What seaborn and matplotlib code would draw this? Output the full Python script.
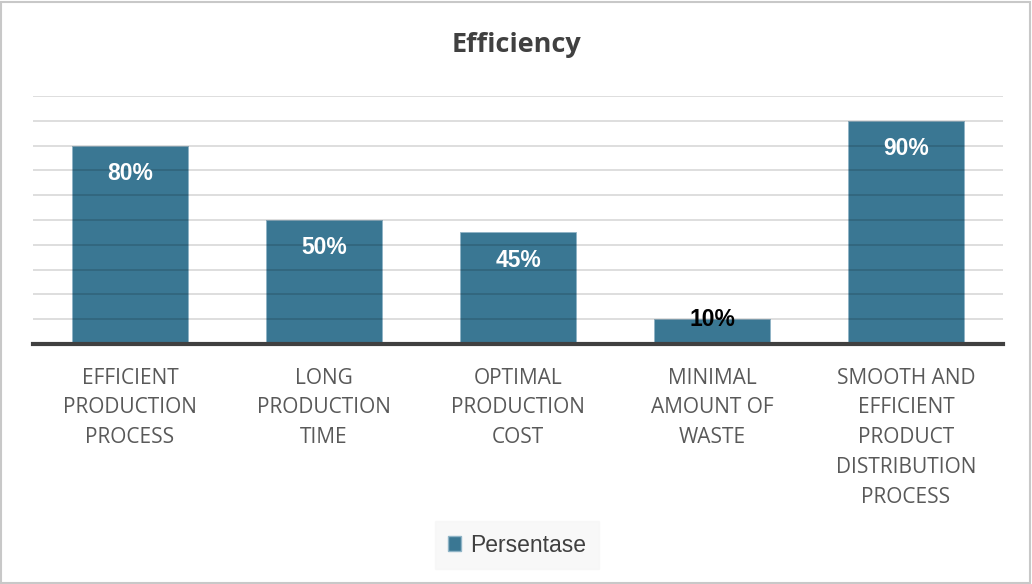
import matplotlib
matplotlib.use("Agg")
import matplotlib.pyplot as plt
import seaborn as sns
import pandas as pd
from matplotlib.patches import Rectangle, Patch

categories = ["EFFICIENT\nPRODUCTION\nPROCESS", "LONG\nPRODUCTION\nTIME",
              "OPTIMAL\nPRODUCTION\nCOST", "MINIMAL\nAMOUNT OF\nWASTE",
              "SMOOTH AND\nEFFICIENT\nPRODUCT\nDISTRIBUTION\nPROCESS"]
values = [80, 50, 45, 10, 90]
labels = ["80%", "50%", "45%", "10%", "90%"]
series_name = "Persentase"

BAR = "#3a7793"
sns.set_theme(style="white")
plt.rcParams['font.family'] = ['Open Sans', 'DejaVu Sans']

fig = plt.figure(figsize=(10.32, 5.84), dpi=100)
ax = fig.add_axes([33/1032, 240/584, 970/1032, 248/584])

df = pd.DataFrame({"cat": categories, "val": values})
sns.barplot(data=df, x="cat", y="val", color=BAR, saturation=1, width=0.6,
            edgecolor="#8fb4c6", linewidth=0.6, ax=ax, zorder=2)
ax.set_ylim(0, 100)
for y in range(10, 101, 10):
    ax.axhline(y, color="black", alpha=0.17, lw=1.1, zorder=3)

for sp in ["top", "right", "left"]:
    ax.spines[sp].set_visible(False)
ax.spines["bottom"].set_color("#404040")
ax.spines["bottom"].set_linewidth(3)
ax.spines["bottom"].set_zorder(4)
ax.set_yticks([])
ax.set_xlabel("")
ax.set_ylabel("")
ax.tick_params(axis="x", length=0, pad=17, labelsize=15, labelcolor="#595959")
for t in ax.get_xticklabels():
    t.set_linespacing(1.55)

for i, (v, lab) in enumerate(zip(values, labels)):
    if v >= 20:
        ax.annotate(lab, (i, v), xytext=(0, -20), textcoords="offset points",
                    ha="center", va="center", color="white", fontsize=16.5,
                    fontweight="bold", family="Liberation Sans", zorder=5)
    else:
        ax.annotate(lab, (i, v), xytext=(0, 0), textcoords="offset points",
                    ha="center", va="center", color="black", fontsize=16.5,
                    fontweight="bold", family="Liberation Sans", zorder=5)

fig.text(517/1032, 1 - 45/584, "Efficiency", ha="center", va="center",
         fontsize=19.5, fontweight="bold", color="#404040")

leg = fig.legend(handles=[Patch(facecolor=BAR, edgecolor="#8fb4c6", label=series_name)],
                 loc="center", bbox_to_anchor=(517/1032, 1 - 545/584),
                 frameon=True, fancybox=False, prop={"family": "Liberation Sans", "size": 16.5},
                 handlelength=0.6, handleheight=0.6, handletextpad=0.4,
                 borderpad=0.55, borderaxespad=0)
leg.get_frame().set_facecolor("#f7f7f7")
leg.get_frame().set_edgecolor("#f7f7f7")
for t in leg.get_texts():
    t.set_color("#404040")

fig.patches.append(Rectangle((0.001, 0.001), 0.997, 0.996, transform=fig.transFigure,
                             fill=False, edgecolor="#c8c8c8", lw=1.5))
fig.savefig("out.png", dpi=100, facecolor="white")
